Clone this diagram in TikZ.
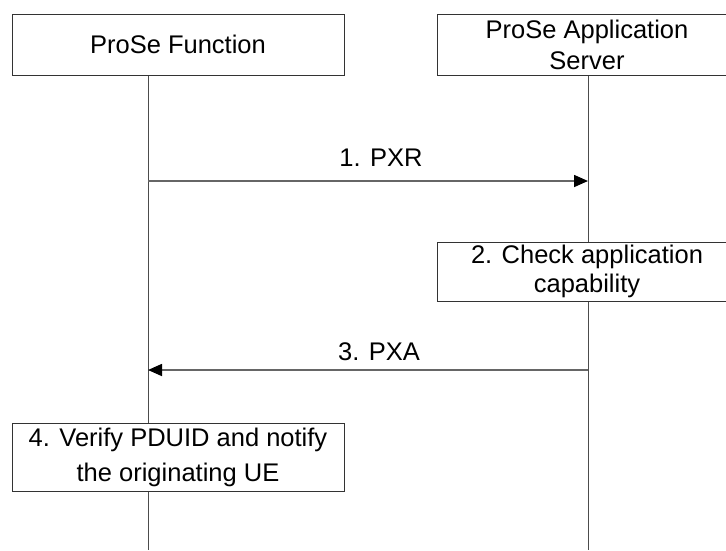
\documentclass[tikz,border=0pt]{standalone}
\usepackage{fontspec}
\setmainfont{Liberation Sans}
\usetikzlibrary{arrows.meta}
\begin{document}
\begin{tikzpicture}[x=1pt,y=-1pt,
  boxst/.style={draw=black!80, line width=0.9pt, fill=white, inner sep=0pt, align=center, text=black},
  lifest/.style={draw=black!70, line width=1pt},
  msgst/.style={draw=black!60, line width=1.6pt, -{Triangle[length=14pt,width=12pt,fill=black,color=black]}},
  lblst/.style={inner sep=0pt, font=\fontsize{25.5}{30}\selectfont, text=black}
]
\useasboundingbox (0,0) rectangle (726,550);
\clip (0,0) rectangle (726,550);
% lifelines
\coordinate (l1t) at (148,75);
\coordinate (l1b) at (148,550);
\coordinate (l2t) at (588,75);
\coordinate (l2b) at (588,550);
\draw[lifest] (l1t) -- (l1b);
\draw[lifest] (l2t) -- (l2b);
% boxes
\node[boxst, minimum width=332pt, minimum height=61pt, font=\fontsize{25.5}{31}\selectfont] (pf) at (178,44.5) {ProSe Function};
\node[boxst, minimum width=300pt, minimum height=61pt, font=\fontsize{25.5}{31}\selectfont] (as) at (587,44.5) {ProSe Application\\Server};
\node[boxst, minimum width=300pt, minimum height=59pt, font=\fontsize{25.5}{29.5}\selectfont] (chk) at (587,271.5) {2. Check application\\capability};
\node[boxst, minimum width=332pt, minimum height=68pt, font=\fontsize{25.5}{35}\selectfont] (ver) at (178,457) {4. Verify PDUID and notify\\the originating UE};
% messages
\coordinate (m1s) at (148,181);
\coordinate (m1e) at (588,181);
\coordinate (m3s) at (588,370);
\coordinate (m3e) at (148,370);
\draw[msgst] (m1s) -- (m1e);
\draw[msgst] (m3s) -- (m3e);
\node[lblst] (lbl1) at (381,158) {1. PXR};
\node[lblst] (lbl3) at (379,352) {3. PXA};
\end{tikzpicture}
\end{document}
